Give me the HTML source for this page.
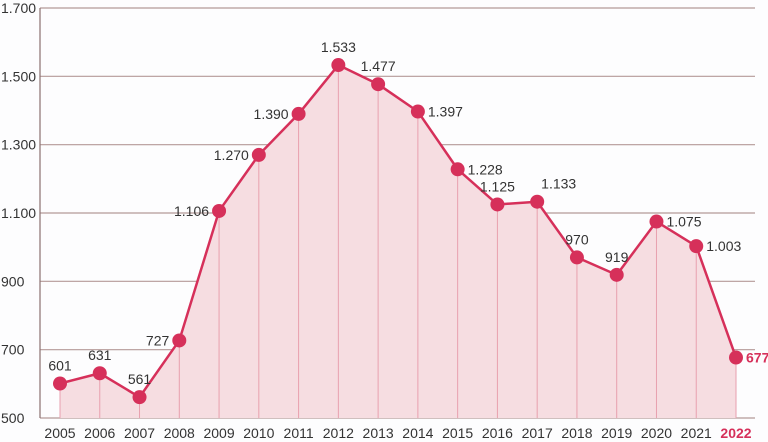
<!DOCTYPE html>
<html><head><meta charset="utf-8"><style>
body{margin:0;background:#fdfdfe;}
svg{display:block;font-family:"Liberation Sans",sans-serif;}
</style></head><body>
<svg id="c" width="768" height="442"></svg>
<script>
const years=["2005","2006","2007","2008","2009","2010","2011","2012","2013","2014","2015","2016","2017","2018","2019","2020","2021","2022"];
const values=[601,631,561,727,1106,1270,1390,1533,1477,1397,1228,1125,1133,970,919,1075,1003,677];
const valueLabels=["601","631","561","727","1.106","1.270","1.390","1.533","1.477","1.397","1.228","1.125","1.133","970","919","1.075","1.003","677"];
const labelPos=["a","a","a","l","l","l","l","a","a","r","r","a","ar","a","a","r","r","r"];
const yTicks=[500,700,900,1100,1300,1500,1700];
const yTickLabels=["500","700","900","1.100","1.300","1.500","1.700"];
const svg=document.getElementById('c');
const NS='http://www.w3.org/2000/svg';
const x=i=>60+i*(736-60)/(years.length-1);
const y=v=>418-(v-500)*(418-8)/1200;
function mk(t,a,p){const e=document.createElementNS(NS,t);for(const k in a)e.setAttribute(k,a[k]);(p||svg).appendChild(e);return e;}
yTicks.forEach((t,i)=>{
  const g=mk('line',{x1:40,x2:755,y1:y(t),y2:y(t),stroke:'#b49a98','stroke-width':1.2});
  
  
  const l=mk('text',{x:1,y:y(t)+5,'text-anchor':'start','font-size':14,fill:'#333'});
  l.textContent=yTickLabels[i];
  
  
});
const ax=mk('line',{x1:40,x2:40,y1:8,y2:418,stroke:'#8a7070','stroke-width':1.2});


let d='M'+x(0)+','+y(500);
values.forEach((v,i)=>d+=' L'+x(i)+','+y(v));
d+=' L'+x(values.length-1)+','+y(500)+' Z';
const area=mk('path',{d:d,fill:'#f6dde1'});


values.forEach((v,i)=>{
  const dl=mk('line',{x1:x(i),x2:x(i),y1:y(v),y2:418,stroke:'#e8a0ae','stroke-width':1});
  
  
});
const ln=mk('polyline',{points:values.map((v,i)=>x(i)+','+y(v)).join(' '),fill:'none',stroke:'#d6305a','stroke-width':2.5,'stroke-linejoin':'round'});


values.forEach((v,i)=>{
  const c=mk('circle',{cx:x(i),cy:y(v),r:7,fill:'#d6305a'});
  
  
  const p=labelPos[i];let tx=x(i),ty=y(v),an='middle';
  if(p==='a'){ty-=13;}else if(p==='l'){tx-=10;ty+=5;an='end';}else if(p==='r'){tx+=10;ty+=5;an='start';}else{tx+=4;ty-=13;an='start';}
  const last=i===values.length-1;
  const t=mk('text',{x:tx,y:ty,'text-anchor':an,'font-size':14,fill:last?'#d6305a':'#333','font-weight':last?'bold':'normal'});
  t.textContent=valueLabels[i];
  
  
  const xl=mk('text',{x:x(i),y:438,'text-anchor':'middle','font-size':14,fill:last?'#d6305a':'#333','font-weight':last?'bold':'normal'});
  xl.textContent=years[i];
  
  
});
</script>
</body></html>
